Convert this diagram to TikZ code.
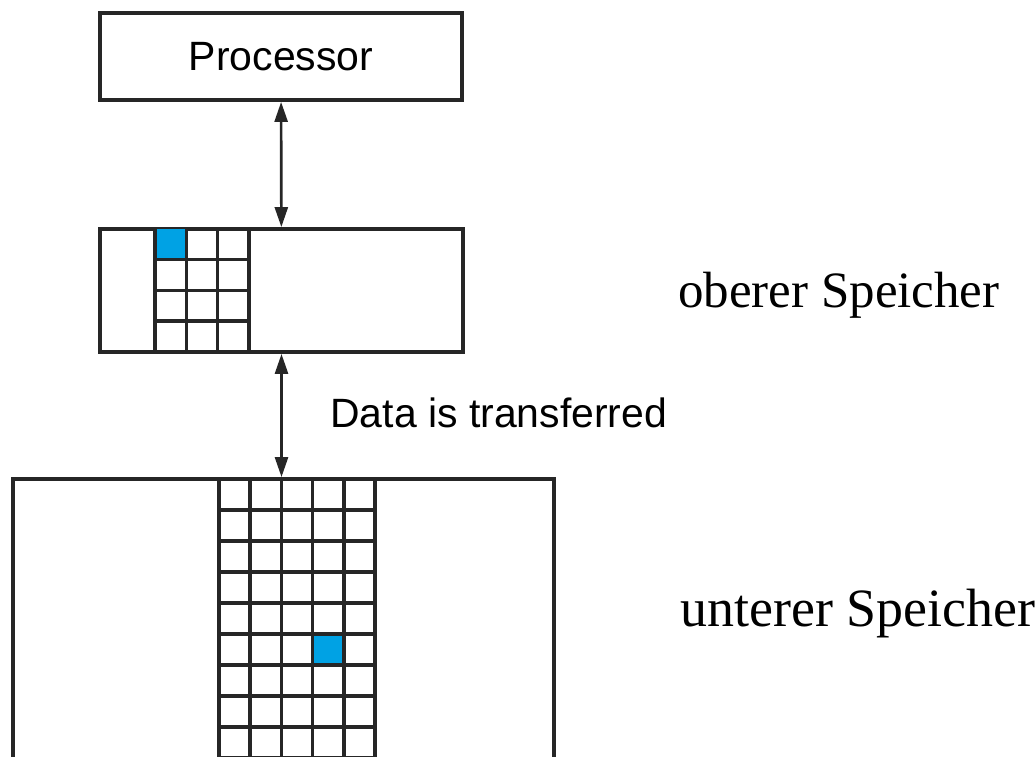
\documentclass[tikz,border=0pt]{standalone}
\usepackage{fontspec}
\setmainfont{Liberation Serif}
\setsansfont{Liberation Sans}
\usetikzlibrary{arrows.meta}
\tikzset{>/.tip={Triangle[length=4mm,width=2.6mm]}}
\definecolor{cellblue}{RGB}{0,162,228}

\begin{document}
\begin{tikzpicture}[x=0.02cm,y=0.02cm,
  box/.style={draw,line width=2.2pt,inner sep=0pt,color=black!85},
  cell/.style={line width=2pt,color=black!85},
  sans/.style={font=\sffamily\fontsize{23.3}{28}\selectfont},
  label/.style={inner sep=0pt,anchor=base west}]
\useasboundingbox (0,0) rectangle (1035,757);
\node[box,sans,text=black,minimum width=7.24cm,minimum height=1.74cm] (proc) at (281,700.5) {Processor};
\node[box,minimum width=7.26cm,minimum height=2.46cm] (upper) at (281.5,466.5) {};
\node[box,minimum width=10.82cm,minimum height=6.42cm] (lower) at (283.5,117.5) {};
\fill[cellblue] (155,528) rectangle (186.3,497.25);
\foreach \i in {0,...,3}
{
  \draw[cell] (155+\i*31.33,528) -- (155+\i*31.33,405);
}
\foreach \j in {1,...,3}
{
  \draw[cell] (155,528-\j*30.75) -- (249,528-\j*30.75);
}
\fill[cellblue] (312.6,123) rectangle (343.8,92);
\foreach \i in {0,...,5}
{
  \draw[cell] (219+\i*31.2,278) -- (219+\i*31.2,-10);
}
\foreach \j in {1,...,9}
{
  \draw[cell] (219,278-\j*31) -- (375,278-\j*31);
}
\draw[<->,line width=1.5pt,black!85] (proc) -- (upper);
\draw[<->,line width=1.5pt,black!85] (upper.south) -- (upper.south |- lower.north);
\node[label,sans] (data) at (330,329) {Data is transferred};
\node[label,font=\fontsize{29}{34}\selectfont] (upperlabel) at (678,449) {oberer Speicher};
\node[label,font=\fontsize{30.7}{36}\selectfont] (lowerlabel) at (680,130) {unterer Speicher};
\end{tikzpicture}
\end{document}
